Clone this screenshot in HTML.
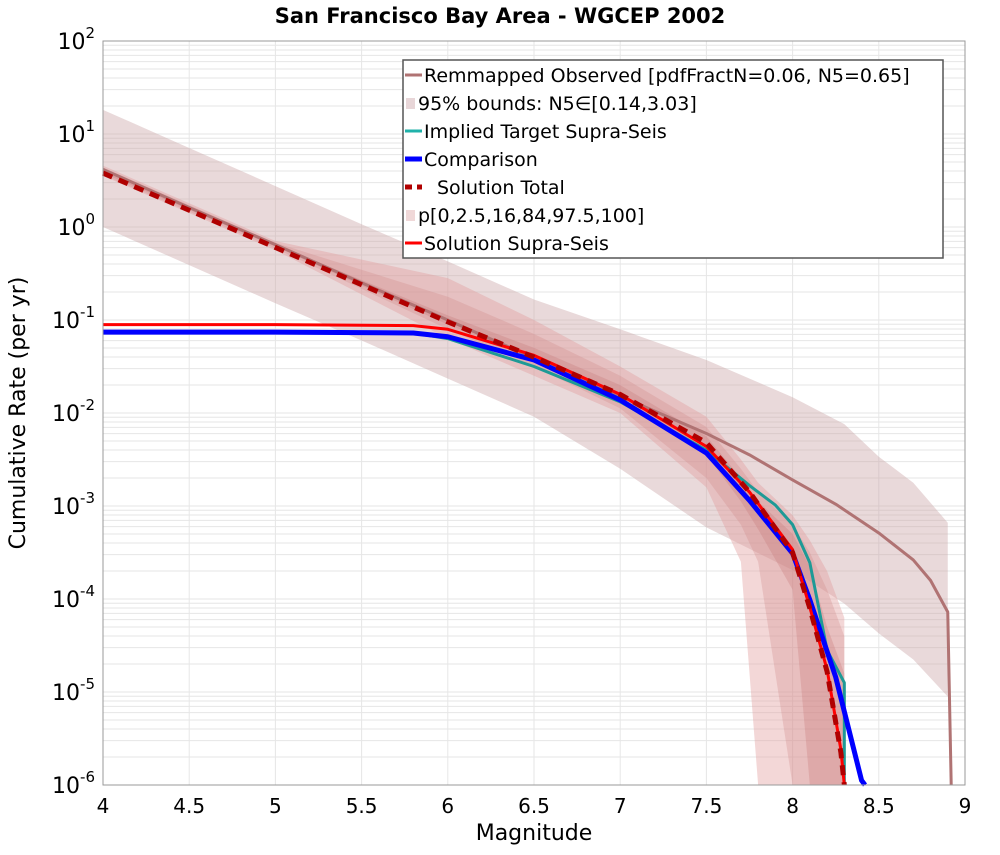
<!DOCTYPE html>
<html><head><meta charset="utf-8"><style>
body{margin:0;background:#fff;font-family:"Liberation Sans","DejaVu Sans",sans-serif}
</style></head><body>
<svg id="chart" width="1000" height="850" xmlns="http://www.w3.org/2000/svg">
<text x="500" y="23" text-anchor="middle" font-size="21" font-weight="bold" font-family="DejaVu Sans, sans-serif">San Francisco Bay Area - WGCEP 2002</text>
<g id="grid"></g>
<g id="bands"></g>
<g id="lines"></g>
<g id="axes"></g>
<text x="534" y="840" text-anchor="middle" font-size="22" font-family="DejaVu Sans, sans-serif">Magnitude</text>
<text transform="translate(25,413) rotate(-90)" text-anchor="middle" font-size="22" font-family="DejaVu Sans, sans-serif">Cumulative Rate (per yr)</text>
<g id="legend"></g>
</svg>
<script>
const xTicks=[4,4.5,5,5.5,6,6.5,7,7.5,8,8.5,9];
const yDecades=[2,1,0,-1,-2,-3,-4,-5,-6];
// log10 rate values
const obsM=[4,4.5,5,5.5,6,6.5,7,7.5,7.75,8,8.25,8.5,8.7,8.8,8.9,8.92];
const obsV=[0.62,0.21,-0.19,-0.6,-1.0,-1.41,-1.82,-2.22,-2.45,-2.72,-2.98,-3.29,-3.58,-3.8,-4.14,-6.1];
const b95M=[4,4.5,5,5.5,6,6.5,7,7.5,8,8.3,8.5,8.7,8.9];
const b95U=[1.26,0.85,0.44,0.03,-0.37,-0.78,-1.1,-1.43,-1.83,-2.12,-2.47,-2.75,-3.18];
const b95L=[0.0,-0.41,-0.82,-1.22,-1.63,-2.04,-2.6,-3.23,-3.69,-4.05,-4.37,-4.65,-5.05];
const pM=[4,5,6,6.5,7,7.5,7.7,7.8,8.0,8.1,8.2,8.3];
const p0U=[0.66,-0.15,-0.55,-1.0,-1.5,-2.04,-2.5,-2.75,-3.1,-3.37,-3.7,-4.2];
const p0L=[0.55,-0.25,-1.2,-1.6,-2.0,-2.8,-3.6,-6.1,-6.1,-6.1,-6.1,-6.1];
const p25U=[0.64,-0.17,-0.75,-1.15,-1.6,-2.15,-2.6,-2.85,-3.2,-3.5,-3.9,-4.4];
const p25L=[0.56,-0.23,-1.1,-1.5,-1.95,-2.7,-3.2,-3.6,-6.1,-6.1,-6.1,-6.1];
const p16U=[0.62,-0.19,-0.95,-1.3,-1.7,-2.25,-2.7,-2.95,-3.3,-3.65,-4.3,-4.8];
const p16L=[0.58,-0.21,-1.05,-1.4,-1.85,-2.45,-2.95,-3.25,-3.9,-6.1,-6.1,-6.1];
const totM=[4,4.5,5,5.5,6,6.5,7,7.5,7.75,8,8.1,8.2,8.28,8.3];
const totV=[0.58,0.18,-0.22,-0.62,-1.02,-1.4,-1.8,-2.32,-2.85,-3.5,-4.1,-4.78,-5.65,-6.1];
const supM=[4,5,5.8,6,6.5,7,7.5,7.75,8,8.1,8.2,8.28,8.3];
const supV=[-1.05,-1.05,-1.06,-1.1,-1.38,-1.8,-2.36,-2.85,-3.47,-4.09,-4.76,-5.62,-6.1];
const cmpM=[4,5,5.8,6,6.5,7,7.5,7.75,8,8.1,8.25,8.4,8.42];
const cmpV=[-1.13,-1.13,-1.14,-1.18,-1.43,-1.86,-2.43,-2.94,-3.51,-4.01,-4.84,-5.95,-6.1];
const impM=[4,5,5.8,6,6.5,7,7.5,7.75,7.9,8.0,8.1,8.2,8.3,8.3];
const impV=[-1.13,-1.13,-1.14,-1.2,-1.5,-1.88,-2.4,-2.78,-2.99,-3.2,-3.61,-4.55,-4.9,-6.1];

const X0=103,X1=965,Y0=41,Y1=785;
const sx=m=>X0+(m-4)/5*(X1-X0);
const sy=v=>Y0+(2-Math.max(v,-6))/8*(Y1-Y0);
const NS="http://www.w3.org/2000/svg";
function mk(t,a,p){const e=document.createElementNS(NS,t);for(const k in a)e.setAttribute(k,a[k]);p.appendChild(e);return e;}
const grid=document.getElementById('grid'),bands=document.getElementById('bands'),lines=document.getElementById('lines'),axes=document.getElementById('axes'),leg=document.getElementById('legend');
for(let d=-6;d<2;d++)for(let k=1;k<10;k++){const y=sy(d+Math.log10(k));
 const l=mk('line',{x1:X0,x2:X1,y1:y,y2:y,stroke:'#e6e6e6','stroke-width':1},grid);
 
 }
xTicks.forEach(m=>{const l=mk('line',{x1:sx(m),x2:sx(m),y1:Y0,y2:Y1,stroke:'#e6e6e6','stroke-width':1},grid);
 
 
 const t=mk('text',{x:sx(m),y:Y1+28,'text-anchor':'middle','font-size':20,'font-family':'DejaVu Sans, sans-serif'},axes);t.textContent=m;
 
 });
yDecades.forEach(d=>{const y=sy(d);const t=mk('text',{x:X0-8,y:y+8,'text-anchor':'end','font-size':22,'font-family':'DejaVu Sans, sans-serif'},axes);
 
 
 const a=mk('tspan',{},t);a.textContent='10';const b=mk('tspan',{dy:-11,'font-size':15},t);b.textContent=String(d).replace('-','-');});
const fr=mk('rect',{x:X0,y:Y0,width:X1-X0,height:Y1-Y0,fill:'none',stroke:'#999','stroke-width':1},axes);


function band(M,U,L,fill,op,name){let p='';M.forEach((m,i)=>p+=(i?'L':'M')+sx(m)+','+sy(U[i]));
 for(let i=M.length-1;i>=0;i--)p+='L'+sx(M[i])+','+sy(L[i]);
 const e=mk('path',{d:p+'Z',fill:fill,'fill-opacity':op},bands);
 
 }
band(b95M,b95U,b95L,'#c9a0a3',0.4,'band-95-bounds');
band(pM,p0U,p0L,'#e09a9a',0.4,'band-p0-100');
band(pM,p25U,p25L,'#d08888',0.3,'band-p2.5-97.5');
band(pM,p16U,p16L,'#c87878',0.3,'band-p16-84');
function line(M,V,col,w,dash,name){let p='';M.forEach((m,i)=>p+=(i?'L':'M')+sx(m)+','+sy(V[i]));
 const a={d:p,fill:'none',stroke:col,'stroke-width':w,'stroke-linejoin':'round'};if(dash)a['stroke-dasharray']=dash;
 const e=mk('path',a,lines);
 
 }
line(obsM,obsV,'#b07373',3,null,'remapped-observed-line');
line(impM,impV,'#1e9a96',3,null,'implied-target-line');
line(cmpM,cmpV,'#0000ff',5,null,'comparison-line');
line(supM,supV,'#ff0000',3,null,'solution-supra-seis-line');
line(totM,totV,'#b00000',5,'10,7','solution-total-line');
// legend
const lb=mk('rect',{x:403,y:60,width:540,height:198,fill:'#fff',stroke:'#555','stroke-width':1.5},leg);


const entries=[['Remmapped Observed [pdfFractN=0.06, N5=0.65]','line','#b07373',3],
['95% bounds: N5∈[0.14,3.03]','box','#e8d6d8',0],
['Implied Target Supra-Seis','line','#20b2aa',3],
['Comparison','line','#0000ff',5],
['Solution Total','dash','#b00000',5],
['p[0,2.5,16,84,97.5,100]','box','#f0d8d8',0],
['Solution Supra-Seis','line','#ff0000',3]];
entries.forEach((en,i)=>{const y=75+i*28;const g=mk('g',{},leg);
 
 
 if(en[1]==='box')mk('rect',{x:406,y:y-5,width:9,height:11,fill:en[2]},g);
 else if(en[1]==='dash')mk('line',{x1:405,x2:422,y1:y,y2:y,stroke:en[2],'stroke-width':en[3],'stroke-dasharray':'7,5'},g);
 else mk('line',{x1:405,x2:422,y1:y,y2:y,stroke:en[2],'stroke-width':en[3]},g);
 const t=mk('text',{x:en[1]==='dash'?437:(en[1]==='box'?418:424),y:y+7,'font-size':19,'font-family':'DejaVu Sans, sans-serif'},g);t.textContent=en[0];});
</script>
</body></html>
